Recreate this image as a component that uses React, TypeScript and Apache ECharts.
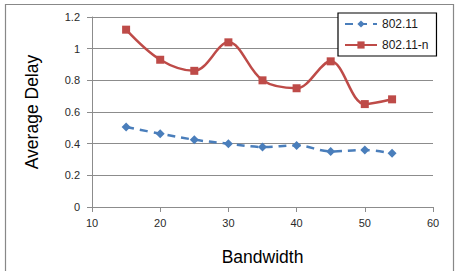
import React, { useEffect, useRef } from "react";
import * as echarts from "echarts";

const bandwidth = [15, 20, 25, 30, 35, 40, 45, 50, 54];
const delay80211 = [0.505, 0.463, 0.425, 0.4, 0.379, 0.389, 0.351, 0.36, 0.339];
const delay80211n = [1.12, 0.93, 0.86, 1.04, 0.8, 0.75, 0.92, 0.65, 0.68];
const seriesNames = ["802.11", "802.11-n"];

const BLUE = "#4a7ebb";
const RED = "#be4b48";
const FONT = "Liberation Sans";

export default function App() {
  const ref = useRef<HTMLDivElement>(null);

  useEffect(() => {
    if (!ref.current) return;
    const chart = echarts.init(ref.current, undefined, { renderer: "svg" });
    chart.setOption({
      animation: false,
      backgroundColor: "#ffffff",
      textStyle: { fontFamily: FONT },
      graphic: [
        {
          type: "rect",
          shape: { x: 5.5, y: 4.5, width: 448, height: 280 },
          style: { fill: "none", stroke: "#888888", lineWidth: 1.2 },
          silent: true,
        },
      ],
      grid: { left: 92, right: 27, top: 17, bottom: 64 },
      legend: {
        orient: "vertical",
        left: 338,
        top: 13,
        width: 90,
        padding: [5, 8, 5, 6],
        itemGap: 9,
        itemWidth: 32,
        itemHeight: 9,
        borderColor: "#000000",
        borderWidth: 1.2,
        backgroundColor: "#ffffff",
        textStyle: { fontSize: 12, color: "#1a1a1a", fontFamily: FONT },
        data: seriesNames,
      },
      xAxis: {
        type: "value",
        min: 10,
        max: 60,
        interval: 10,
        name: "Bandwidth",
        nameLocation: "middle",
        nameGap: 41,
        nameTextStyle: { fontSize: 17.5, color: "#000000", fontFamily: FONT },
        axisLine: { show: true, lineStyle: { color: "#8c8c8c", width: 1 } },
        axisTick: { show: true, length: 5, inside: false, lineStyle: { color: "#8c8c8c" } },
        axisLabel: { fontSize: 11, color: "#2a2a2a", margin: 10 },
        splitLine: { show: false },
      },
      yAxis: {
        type: "value",
        min: 0,
        max: 1.2,
        interval: 0.2,
        name: "Average Delay",
        nameLocation: "middle",
        nameGap: 51,
        nameTextStyle: { fontSize: 17.5, color: "#000000", fontFamily: FONT },
        axisLine: { show: true, lineStyle: { color: "#8c8c8c", width: 1 } },
        axisTick: { show: true, length: 5, lineStyle: { color: "#8c8c8c" } },
        axisLabel: {
          fontSize: 11,
          color: "#2a2a2a",
          margin: 12,
          formatter: (v: number) => String(Math.round(v * 10) / 10),
        },
        splitLine: { show: true, lineStyle: { color: "#8c8c8c", width: 1 } },
      },
      series: [
        {
          name: seriesNames[0],
          type: "line",
          data: bandwidth.map((x, i) => [x, delay80211[i]]),
          smooth: 0.35,
          symbol: "diamond",
          symbolSize: 9,
          itemStyle: { color: BLUE },
          lineStyle: { color: BLUE, width: 2.5, type: [8, 6] },
        },
        {
          name: seriesNames[1],
          type: "line",
          data: bandwidth.map((x, i) => [x, delay80211n[i]]),
          smooth: 0.35,
          symbol: "rect",
          symbolSize: 8,
          itemStyle: { color: RED },
          lineStyle: { color: RED, width: 2.5 },
        },
      ],
    });
    return () => chart.dispose();
  }, []);

  return (
    <div
      ref={ref}
      style={{ position: "absolute", left: 0, top: 0, width: 460, height: 271 }}
    />
  );
}
